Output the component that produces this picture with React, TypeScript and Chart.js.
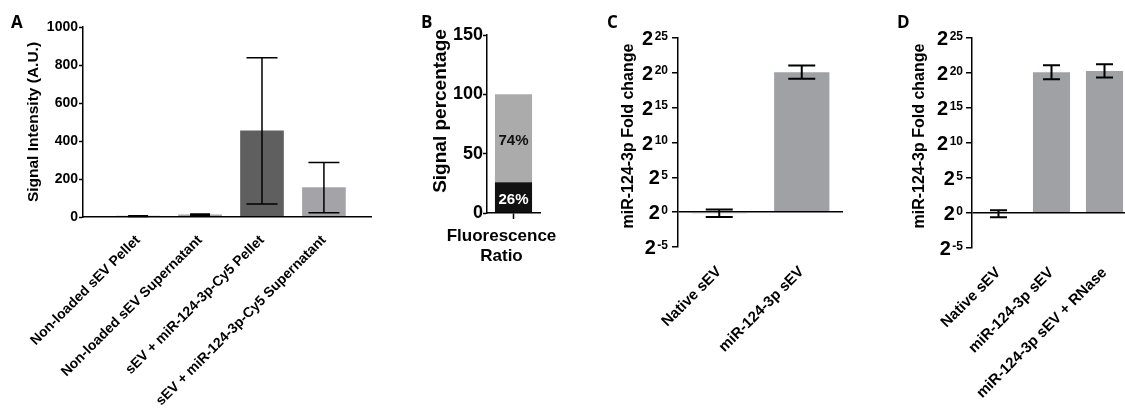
import React, { useEffect, useRef } from 'react';
import { Chart, registerables } from 'chart.js';

Chart.register(...registerables);

const FONT = '"Liberation Sans", Arial, Helvetica, sans-serif';

// ---------- Panel A data ----------
const loadingCategories = [
  'Non-loaded sEV Pellet',
  'Non-loaded sEV Supernatant',
  'sEV + miR-124-3p-Cy5 Pellet',
  'sEV + miR-124-3p-Cy5 Supernatant',
];
const signalIntensity = [5, 12, 453, 155];
const signalIntensitySD = [2, 4, 385, 132];
const signalAxisMax = 1000;
const signalAxisStep = 200;

// ---------- Panel B data ----------
const ratioCategory = [['Fluorescence', 'Ratio']];
const pelletShare = [26];
const supernatantShare = [74];
const shareAxisMax = 150;
const shareAxisStep = 50;

// ---------- Panel C data (log2 fold change) ----------
const nativeVsLoaded = ['Native sEV', 'miR-124-3p sEV'];
const foldChangeC = [-0.15, 20.1];
const foldChangeErrC = [0.55, 0.95];

// ---------- Panel D data (log2 fold change) ----------
const rnaseCategories = ['Native sEV', 'miR-124-3p sEV', 'miR-124-3p sEV + RNase'];
const foldChangeD = [-0.1, 20.1, 20.3];
const foldChangeErrD = [0.5, 1.0, 0.95];

// y tick exponents for panels C and D (labels 2^e)
const log2Exponents = [-5, 0, 5, 10, 15, 20, 25];

const axisFont = (size: number) => ({ family: FONT, size, weight: 'bold' as const });

function errorBars(values: number[], errors: number[], caps: number[] | number, lineWidth: number) {
  return {
    id: 'errorBars',
    afterDatasetsDraw(chart: any) {
      const meta = chart.getDatasetMeta(0);
      const y = chart.scales.y;
      const ctx = chart.ctx;
      ctx.save();
      ctx.strokeStyle = '#000';
      ctx.lineWidth = lineWidth;
      meta.data.forEach((el: any, i: number) => {
        const cap = Array.isArray(caps) ? caps[i] : caps;
        const top = y.getPixelForValue(values[i] + errors[i]);
        const bot = y.getPixelForValue(values[i] - errors[i]);
        const x = el.x;
        ctx.beginPath();
        ctx.moveTo(x, top);
        ctx.lineTo(x, bot);
        ctx.moveTo(x - cap / 2, top);
        ctx.lineTo(x + cap / 2, top);
        ctx.moveTo(x - cap / 2, bot);
        ctx.lineTo(x + cap / 2, bot);
        ctx.stroke();
      });
      ctx.restore();
    },
  };
}

function yTitle(text: string, cx: number, cy: number, size: number) {
  return {
    id: 'yTitle',
    afterDraw(chart: any) {
      const ctx = chart.ctx;
      ctx.save();
      ctx.translate(cx, cy);
      ctx.rotate(-Math.PI / 2);
      ctx.font = `bold ${size}px ${FONT}`;
      ctx.fillStyle = '#000';
      ctx.textAlign = 'center';
      ctx.textBaseline = 'middle';
      ctx.fillText(text, 0, 0);
      ctx.restore();
    },
  };
}

function pow2Labels(exponents: number[], gap: number) {
  return {
    id: 'pow2Labels',
    afterDraw(chart: any) {
      const s = chart.scales.y;
      const ctx = chart.ctx;
      const xr = chart.chartArea.left - gap;
      ctx.save();
      ctx.fillStyle = '#000';
      exponents.forEach((e) => {
        const y = s.getPixelForValue(e);
        const exp = String(e);
        ctx.font = `bold 12px ${FONT}`;
        const ew = ctx.measureText(exp).width;
        ctx.textAlign = 'left';
        ctx.textBaseline = 'alphabetic';
        ctx.fillText(exp, xr - ew, y + 1.5);
        ctx.font = `bold 20px ${FONT}`;
        ctx.textAlign = 'right';
        ctx.fillText('2', xr - ew - 1.5, y + 7);
      });
      ctx.restore();
    },
  };
}

function segmentLabels(texts: string[][], colors: string[], size: number) {
  return {
    id: 'segmentLabels',
    afterDatasetsDraw(chart: any) {
      const ctx = chart.ctx;
      ctx.save();
      ctx.font = `bold ${size}px ${FONT}`;
      ctx.textAlign = 'center';
      ctx.textBaseline = 'middle';
      chart.data.datasets.forEach((_ds: any, di: number) => {
        const meta = chart.getDatasetMeta(di);
        meta.data.forEach((el: any, i: number) => {
          ctx.fillStyle = colors[di];
          ctx.fillText(texts[di][i], el.x, (el.y + el.base) / 2 + 3);
        });
      });
      ctx.restore();
    },
  };
}

const common = {
  animation: false as const,
  responsive: false,
  devicePixelRatio: 1,
  events: [] as any[],
  plugins: { legend: { display: false }, tooltip: { enabled: false } },
};

const blackBorder = { display: true, color: '#000', width: 1.5, z: 1 };

function fitX(h: number) {
  return (s: any) => {
    s.height = h;
    s.paddingLeft = 0;
    s.paddingRight = 0;
  };
}
function fitY(w: number) {
  return (s: any) => {
    s.width = w;
    s.paddingTop = 0;
    s.paddingBottom = 0;
  };
}

function configA(): any {
  return {
    type: 'bar',
    data: {
      datasets: [
        {
          data: signalIntensity.map((v, i) => ({ x: i, y: v })),
          backgroundColor: ['#a4a4a8', '#a4a4a8', '#5f5f5f', '#a4a4a8'],
          barThickness: 43,
        },
      ],
    },
    options: {
      ...common,
      layout: { padding: { left: 0, right: 9, top: 27, bottom: 0 } },
      scales: {
        x: {
          type: 'linear',
          offset: false,
          min: -0.89,
          max: 3.76,
          afterFit: fitX(193),
          grid: { display: false },
          border: blackBorder,
          ticks: {
            stepSize: 1,
            includeBounds: false,
            autoSkip: false,
            minRotation: 45,
            maxRotation: 45,
            padding: 7,
            font: axisFont(14),
            color: '#000',
            callback: (v: number) => loadingCategories[v] ?? '',
          },
        },
        y: {
          min: 0,
          max: signalAxisMax,
          afterFit: fitY(83),
          grid: { display: true, drawOnChartArea: false, drawTicks: true, tickLength: 4, tickColor: '#000', tickWidth: 1.5 },
          border: blackBorder,
          ticks: {
            stepSize: signalAxisStep,
            padding: 1,
            font: axisFont(14),
            color: '#000',
            callback: (v: number) => String(v),
          },
        },
      },
    },
    plugins: [
      errorBars(signalIntensity, signalIntensitySD, [20, 20, 31, 31], 1.5),
      yTitle('Signal Intensity (A.U.)', 34, 122, 15.5),
    ],
  };
}

function configB(): any {
  return {
    type: 'bar',
    data: {
      labels: ratioCategory,
      datasets: [
        { data: pelletShare, backgroundColor: '#111111', barPercentage: 0.7, categoryPercentage: 1 },
        { data: supernatantShare, backgroundColor: '#ababab', barPercentage: 0.7, categoryPercentage: 1 },
      ],
    },
    options: {
      ...common,
      layout: { padding: { left: 0, right: 80, top: 35, bottom: 0 } },
      scales: {
        x: {
          stacked: true,
          afterFit: fitX(197),
          grid: { display: true, offset: false, drawOnChartArea: false, drawTicks: true, tickLength: 6, tickColor: '#000', tickWidth: 1.5 },
          border: blackBorder,
          ticks: { font: axisFont(17), color: '#000', padding: 7, labelOffset: -12, maxRotation: 0, autoSkip: false },
        },
        y: {
          stacked: true,
          min: 0,
          max: shareAxisMax,
          afterFit: fitY(107),
          grid: { display: true, drawOnChartArea: false, drawTicks: true, tickLength: 4, tickColor: '#000', tickWidth: 1.5 },
          border: blackBorder,
          ticks: { stepSize: shareAxisStep, padding: 0, font: axisFont(18), color: '#000', callback: (v: number) => String(v) },
        },
      },
    },
    plugins: [
      segmentLabels(
        [pelletShare.map((v) => `${v}%`), supernatantShare.map((v) => `${v}%`)],
        ['#ffffff', '#111111'],
        15
      ),
      yTitle('Signal percentage', 61, 111, 19),
    ],
  };
}

function configFold(
  cats: string[],
  values: number[],
  errors: number[],
  cap: number,
  barPct: number,
  yWidth: number,
  padRight: number,
  xHeight: number,
  titleX: number,
  labelGap: number
): any {
  return {
    type: 'bar',
    data: {
      labels: cats,
      datasets: [{ data: values, backgroundColor: '#9fa1a4', barPercentage: barPct, categoryPercentage: 1 }],
    },
    options: {
      ...common,
      layout: { padding: { left: 0, right: padRight, top: 38, bottom: 0 } },
      scales: {
        x: {
          afterFit: fitX(xHeight),
          grid: { display: false },
          border: { display: false },
          ticks: { font: axisFont(15), color: '#000', padding: 8, minRotation: 45, maxRotation: 45, autoSkip: false },
        },
        y: {
          min: log2Exponents[0],
          max: log2Exponents[log2Exponents.length - 1],
          afterFit: fitY(yWidth),
          grid: {
            display: true,
            color: (ctx: any) => (ctx.tick && ctx.tick.value === 0 ? '#000' : 'rgba(0,0,0,0)'),
            lineWidth: 1.5,
            drawTicks: true,
            tickLength: 6,
            tickColor: '#000',
            tickWidth: 1.5,
            z: 1,
          },
          border: blackBorder,
          ticks: { stepSize: 5, display: false },
        },
      },
    },
    plugins: [
      errorBars(values, errors, cap, 2),
      yTitle('miR-124-3p Fold change', titleX, 136, 16),
      pow2Labels(log2Exponents, labelGap),
    ],
  };
}

export default function App() {
  const aRef = useRef<HTMLCanvasElement>(null);
  const bRef = useRef<HTMLCanvasElement>(null);
  const cRef = useRef<HTMLCanvasElement>(null);
  const dRef = useRef<HTMLCanvasElement>(null);

  useEffect(() => {
    const charts = [
      new Chart(aRef.current as HTMLCanvasElement, configA()),
      new Chart(bRef.current as HTMLCanvasElement, configB()),
      new Chart(
        cRef.current as HTMLCanvasElement,
        configFold(nativeVsLoaded, foldChangeC, foldChangeErrC, 27, 0.67, 118, 7, 163, 69, 10)
      ),
      new Chart(
        dRef.current as HTMLCanvasElement,
        configFold(rnaseCategories, foldChangeD, foldChangeErrD, 17, 0.7, 122, 4, 162, 70, 9)
      ),
    ];
    return () => charts.forEach((c) => c.destroy());
  }, []);

  const letter: React.CSSProperties = {
    position: 'absolute',
    top: 13,
    fontFamily: '"Open Sans", sans-serif',
    fontWeight: 700,
    fontSize: 17,
    lineHeight: '17px',
    color: '#000',
  };
  const cv: React.CSSProperties = { position: 'absolute', top: 0 };

  return (
    <div
      style={{
        position: 'absolute',
        left: 0,
        top: 0,
        width: 1125,
        height: 410,
        overflow: 'hidden',
        background: '#fff',
      }}
    >
      <canvas ref={aRef} width={380} height={410} style={{ ...cv, left: 0, width: 380, height: 410 }} />
      <canvas ref={bRef} width={240} height={410} style={{ ...cv, left: 380, width: 240, height: 410 }} />
      <canvas ref={cRef} width={290} height={410} style={{ ...cv, left: 560, width: 290, height: 410 }} />
      <canvas ref={dRef} width={285} height={410} style={{ ...cv, left: 850, width: 285, height: 410 }} />
      <div style={{ ...letter, left: 11 }}>A</div>
      <div style={{ ...letter, left: 421 }}>B</div>
      <div style={{ ...letter, left: 607 }}>C</div>
      <div style={{ ...letter, left: 897 }}>D</div>
    </div>
  );
}
